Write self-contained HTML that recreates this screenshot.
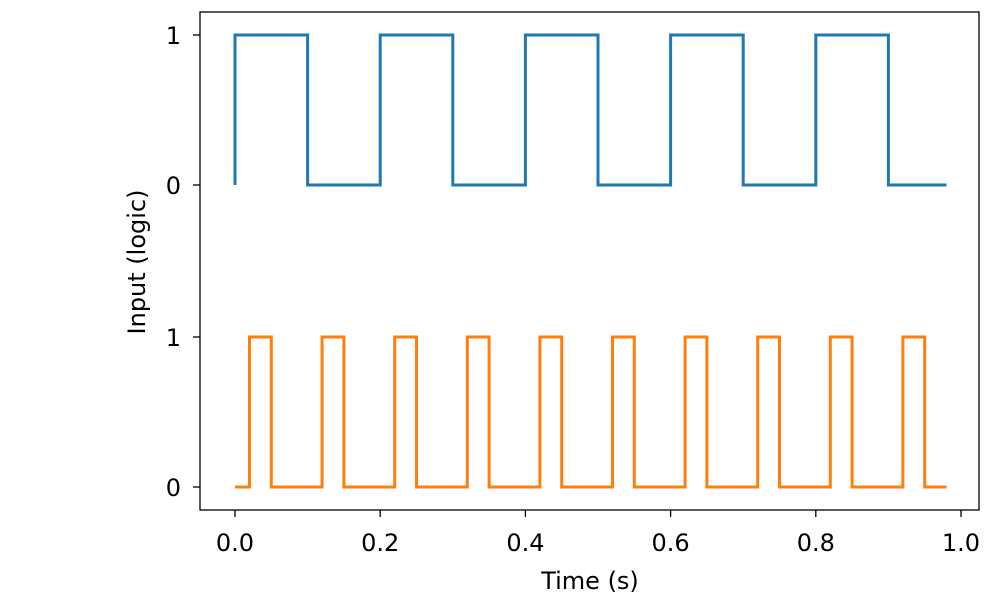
<!DOCTYPE html>
<html><head><meta charset="utf-8"><style>body{margin:0;background:#fff}svg{display:block}text{font-family:"DejaVu Sans","Liberation Sans",sans-serif;font-size:24px;fill:#000}</style></head>
<body>
<svg width="1000" height="600" xmlns="http://www.w3.org/2000/svg">
<rect x="0" y="0" width="1000" height="600" fill="#fff"/>
<path d="M235,185 V35 H307.6 V185 H380.2 V35 H452.8 V185 H525.4 V35 H598 V185 H670.6 V35 H743.2 V185 H815.8 V35 H888.4 V185 H946.5" fill="none" stroke="#1f77b4" stroke-width="3" stroke-linejoin="miter"/>
<path d="M235,487 H249.5 V337 H271.3 V487 H322.1 V337 H343.9 V487 H394.7 V337 H416.5 V487 H467.3 V337 H489.1 V487 H539.9 V337 H561.7 V487 H612.5 V337 H634.3 V487 H685.1 V337 H706.9 V487 H757.7 V337 H779.5 V487 H830.3 V337 H852.1 V487 H902.9 V337 H924.7 V487 H946.5" fill="none" stroke="#ff7f0e" stroke-width="3"/>
<rect x="200" y="12" width="779" height="498" fill="none" stroke="#000" stroke-width="1.3"/>
<g stroke="#000" stroke-width="1.3">
<line x1="235" y1="510" x2="235" y2="517"/><line x1="380.2" y1="510" x2="380.2" y2="517"/><line x1="525.4" y1="510" x2="525.4" y2="517"/><line x1="670.6" y1="510" x2="670.6" y2="517"/><line x1="815.8" y1="510" x2="815.8" y2="517"/><line x1="961" y1="510" x2="961" y2="517"/>
<line x1="193" y1="35" x2="200" y2="35"/><line x1="193" y1="185" x2="200" y2="185"/><line x1="193" y1="337" x2="200" y2="337"/><line x1="193" y1="487" x2="200" y2="487"/>
</g>
<g text-anchor="middle">
<text x="235" y="551">0.0</text><text x="380.2" y="551">0.2</text><text x="525.4" y="551">0.4</text><text x="670.6" y="551">0.6</text><text x="815.8" y="551">0.8</text><text x="961" y="551">1.0</text>
<text x="590" y="589" font-size="26">Time (s)</text>
</g>
<g text-anchor="end">
<text x="181" y="44">1</text><text x="181" y="194">0</text><text x="181" y="346">1</text><text x="181" y="496">0</text>
</g>
<text transform="translate(145,262) rotate(-90)" text-anchor="middle" font-size="26">Input (logic)</text>
</svg>
</body></html>
